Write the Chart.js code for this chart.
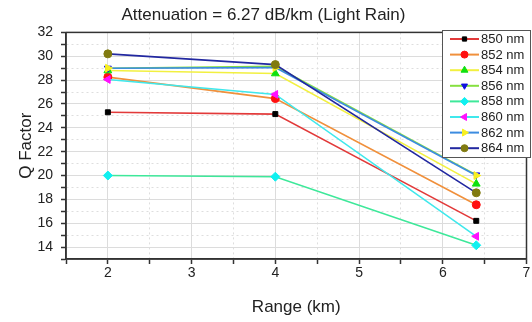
<!DOCTYPE html>
<html>
<head>
<meta charset="utf-8">
<script src="https://cdn.jsdelivr.net/npm/chart.js@4"></script>
<style>
  html, body { margin: 0; padding: 0; background: #fff; }
  #wrap { width: 532px; height: 322px; }
</style>
</head>
<body>
<div id="wrap"><canvas id="qChart" width="532" height="322"></canvas></div>
<script>
/* ---- Data ---- */
const RANGES = [2, 4, 6.4];
const WAVELENGTHS = ['850 nm', '852 nm', '854 nm', '856 nm', '858 nm', '860 nm', '862 nm', '864 nm'];
const Q_850 = [25.3, 25.15, 16.2];
const Q_852 = [28.25, 26.45, 17.55];
const Q_854 = [28.8, 28.55, 19.3];
const Q_856 = [29.0, 29.15, 20.05];
const Q_858 = [20.0, 19.9, 14.15];
const Q_860 = [28.05, 26.8, 14.9];
const Q_862 = [29.0, 29.05, 20.0];
const Q_864 = [30.2, 29.3, 18.55];
const SERIES = [Q_850, Q_852, Q_854, Q_856, Q_858, Q_860, Q_862, Q_864];
const Y_TICKS = [14, 16, 18, 20, 22, 24, 26, 28, 30, 32];
const X_TICKS = [2, 3, 4, 5, 6, 7];

/* ---- Styles per series: line colour, marker colour, marker shape ---- */
const STYLES = [
  { line: '#e23a3a', mark: '#000000', shape: 'rect',     rot: 0,   r: 3.5 },
  { line: '#f0903c', mark: '#ff1010', shape: 'circle',   rot: 0,   r: 4 },
  { line: '#f2f040', mark: '#10e010', shape: 'triangle', rot: 0,   r: 4.5 },
  { line: '#86e040', mark: '#1010e0', shape: 'triangle', rot: 180, r: 4 },
  { line: '#3ee89a', mark: '#10f0f0', shape: 'rectRot',  rot: 0,   r: 4.5 },
  { line: '#40e8ec', mark: '#ff10ff', shape: 'triangle', rot: -90, r: 4.5 },
  { line: '#3c8ce0', mark: '#f8f020', shape: 'triangle', rot: 90,  r: 4.5 },
  { line: '#2228a0', mark: '#807a10', shape: 'circle',   rot: 0,   r: 4 }
];

const FONT = "'Liberation Sans', Arial, sans-serif";
const AXIS_DARK = '#333';

// later wavelengths are drawn on top of earlier ones
const datasets = SERIES.map((vals, i) => ({
  label: WAVELENGTHS[i],
  data: vals.map((v, k) => ({ x: RANGES[k], y: v })),
  order: SERIES.length - i,
  borderColor: STYLES[i].line,
  borderWidth: 1.6,
  pointStyle: STYLES[i].shape,
  rotation: STYLES[i].rot,
  pointRadius: STYLES[i].r,
  pointBackgroundColor: STYLES[i].mark,
  pointBorderColor: STYLES[i].mark,
  pointBorderWidth: 1,
  tension: 0,
  fill: false
}));

/* ---- Frame around the plot area ---- */
const framePlugin = {
  id: 'frame',
  afterDatasetsDraw(chart) {
    const { ctx, chartArea: a } = chart;
    ctx.save();
    ctx.strokeStyle = AXIS_DARK;
    ctx.lineWidth = 1.5;
    ctx.strokeRect(a.left, a.top, a.right - a.left, a.bottom - a.top);
    ctx.restore();
  }
};

/* ---- Boxed legend in the upper right corner ---- */
const boxLegend = {
  id: 'boxLegend',
  afterDraw(chart) {
    const ctx = chart.ctx;
    const x0 = 442, y0 = 30, w = 88, h = 127;
    const rowH = 15.6;
    ctx.save();
    ctx.fillStyle = '#fff';
    ctx.fillRect(x0, y0, w, h);
    ctx.strokeStyle = '#555';
    ctx.lineWidth = 1;
    ctx.strokeRect(x0 + 0.5, y0 + 0.5, w, h);
    ctx.font = '13px ' + FONT;
    ctx.textBaseline = 'middle';
    WAVELENGTHS.forEach((name, i) => {
      const st = STYLES[i];
      const y = y0 + 9 + i * rowH;
      ctx.strokeStyle = st.line;
      ctx.lineWidth = 2;
      ctx.beginPath();
      ctx.moveTo(x0 + 8, y);
      ctx.lineTo(x0 + 37, y);
      ctx.stroke();
      ctx.fillStyle = st.mark;
      ctx.strokeStyle = st.mark;
      ctx.lineWidth = 1;
      Chart.helpers.drawPoint(ctx, {
        pointStyle: st.shape,
        rotation: st.rot,
        radius: st.r - 0.5,
        borderWidth: 1
      }, x0 + 22.5, y);
      ctx.fillStyle = '#222';
      ctx.fillText(name, x0 + 39, y + 0.5);
    });
    ctx.restore();
  }
};

const isMajorY = v => Y_TICKS.includes(Math.round(v * 100) / 100);
const isMajorX = v => X_TICKS.includes(Math.round(v * 100) / 100);

new Chart(document.getElementById('qChart').getContext('2d'), {
  type: 'line',
  data: { datasets },
  options: {
    responsive: false,
    animation: false,
    layout: { padding: { left: 0, right: 5, top: 0, bottom: 0 } },
    plugins: {
      legend: { display: false },
      tooltip: { enabled: false },
      title: {
        display: true,
        text: 'Attenuation = 6.27 dB/km (Light Rain)',
        color: '#222',
        font: { family: FONT, size: 17, weight: 'normal' },
        padding: { top: 5, bottom: 7 }
      }
    },
    scales: {
      x: {
        type: 'linear',
        min: 1.5,
        max: 7,
        afterFit: s => { s.height = 63; },
        ticks: {
          stepSize: 0.5,
          autoSkip: false,
          maxRotation: 0,
          color: '#222',
          padding: 1,
          font: { family: FONT, size: 14 },
          callback: v => isMajorX(v) ? String(v) : ''
        },
        grid: {
          color: ctx => isMajorX(ctx.tick.value) ? '#dcdcdc' : '#dedede',
          lineWidth: 1,
          tickColor: AXIS_DARK,
          tickLength: 5,
          tickWidth: 1.5
        },
        border: {
          color: AXIS_DARK,
          width: 1.5,
          dash: ctx => (ctx.tick && !isMajorX(ctx.tick.value)) ? [2, 3] : []
        },
        title: {
          display: true,
          text: 'Range (km)',
          color: '#222',
          font: { family: FONT, size: 17 },
          padding: { top: 6 }
        }
      },
      y: {
        min: 13,
        max: 32,
        afterFit: s => { s.width = 66; },
        ticks: {
          stepSize: 1,
          autoSkip: false,
          color: '#222',
          padding: 8,
          font: { family: FONT, size: 14 },
          callback: v => isMajorY(v) ? String(v) : ''
        },
        grid: {
          color: ctx => isMajorY(ctx.tick.value) ? '#dcdcdc' : '#dedede',
          lineWidth: 1,
          tickColor: AXIS_DARK,
          tickLength: 5,
          tickWidth: 1.5
        },
        border: {
          color: AXIS_DARK,
          width: 1.5,
          dash: ctx => (ctx.tick && !isMajorY(ctx.tick.value)) ? [2, 3] : []
        },
        title: {
          display: true,
          text: 'Q Factor',
          color: '#222',
          font: { family: FONT, size: 17 },
          padding: { top: 16, bottom: 0 }
        }
      }
    }
  },
  plugins: [framePlugin, boxLegend]
});
</script>
</body>
</html>
